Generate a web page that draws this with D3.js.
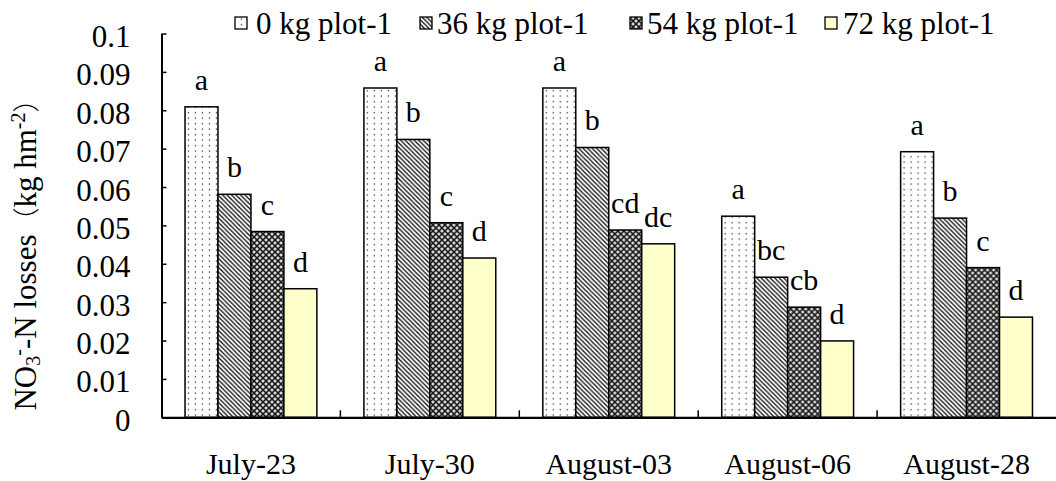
<!DOCTYPE html>
<html>
<head>
<meta charset="utf-8">
<script src="https://cdn.jsdelivr.net/npm/d3@7"></script>
<style>
  html, body { margin: 0; padding: 0; background: #fff; }
  svg { display: block; }
  text { font-family: "Liberation Serif", "Times New Roman", serif; fill: #000; }
</style>
</head>
<body>
<svg id="chart" width="1056" height="481"></svg>
<script>
// ---------------- DATA ----------------
const categories = ["July-23", "July-30", "August-03", "August-06", "August-28"];
const seriesNames = ["0 kg plot-1", "36 kg plot-1", "54 kg plot-1", "72 kg plot-1"];
const values0  = [0.0809, 0.0858, 0.0858, 0.0524, 0.0692];
const values36 = [0.0581, 0.0724, 0.0703, 0.0365, 0.0519];
const values54 = [0.0484, 0.0507, 0.0488, 0.0287, 0.0390];
const values72 = [0.0335, 0.0415, 0.0452, 0.0199, 0.0261];
const letters0  = ["a", "a", "a", "a", "a"];
const letters36 = ["b", "b", "b", "bc", "b"];
const letters54 = ["c", "c", "cd", "cb", "c"];
const letters72 = ["d", "d", "dc", "d", "d"];
const yTicks = [0, 0.01, 0.02, 0.03, 0.04, 0.05, 0.06, 0.07, 0.08, 0.09, 0.1];
const yTickLabels = ["0", "0.01", "0.02", "0.03", "0.04", "0.05", "0.06", "0.07", "0.08", "0.09", "0.1"];

const seriesValues = [values0, values36, values54, values72];
const seriesLetters = [letters0, letters36, letters54, letters72];

// ---------------- LAYOUT ----------------
const svg = d3.select("#chart");
const mLeft = 161.5, mRight = 1056, mTop = 33.5, mBottom = 417.3;
const fontSize = 31;

const defs = svg.append("defs");
// dotted pattern
const pDots = defs.append("pattern").attr("id", "pDots").attr("patternUnits", "userSpaceOnUse")
  .attr("width", 7).attr("height", 5.5);
pDots.append("rect").attr("width", 7).attr("height", 5.5).attr("fill", "#fff");
pDots.append("rect").attr("x", 2.8).attr("y", 2).attr("width", 1.3).attr("height", 1.3).attr("fill", "#333");

// diagonal "\" hatch
const pHatch = defs.append("pattern").attr("id", "pHatch").attr("patternUnits", "userSpaceOnUse")
  .attr("width", 4.5).attr("height", 4.5);
pHatch.append("rect").attr("width", 4.5).attr("height", 4.5).attr("fill", "#fff");
pHatch.append("path").attr("d", "M-1,-1 L5.5,5.5 M-1,3.5 L1,5.5 M3.5,-1 L5.5,1")
  .attr("stroke", "#111").attr("stroke-width", 1.3);

// dark lattice pattern
const pWeave = defs.append("pattern").attr("id", "pWeave").attr("patternUnits", "userSpaceOnUse")
  .attr("width", 6).attr("height", 6);
pWeave.append("rect").attr("width", 6).attr("height", 6).attr("fill", "#8c8c8c");
pWeave.append("path").attr("d", "M0,0 L6,6 M6,0 L0,6").attr("stroke", "#111").attr("stroke-width", 1.1);
[[3, 0], [0, 3], [6, 3], [3, 6]].forEach(([cx, cy]) =>
  pWeave.append("circle").attr("cx", cx).attr("cy", cy).attr("r", 0.9).attr("fill", "#fff"));

const fills = ["url(#pDots)", "url(#pHatch)", "url(#pWeave)", "#ffffcc"];

// scales
const x0 = d3.scaleBand().domain(categories).range([mLeft, mRight]).paddingInner(0).paddingOuter(0);
const groupW = x0.bandwidth() * 0.737;
const x1 = d3.scaleBand().domain(d3.range(seriesNames.length)).range([0, groupW]).padding(0);
const y = d3.scaleLinear().domain([0, 0.1]).range([mBottom, mTop]);

// bars
const groups = svg.append("g").selectAll("g").data(categories).join("g")
  .attr("transform", c => `translate(${x0(c) + (x0.bandwidth() - groupW) / 2},0)`);

groups.each(function (c, ci) {
  const g = d3.select(this);
  seriesValues.forEach((vals, si) => {
    g.append("rect")
      .attr("x", x1(si))
      .attr("y", y(vals[ci]))
      .attr("width", x1.bandwidth())
      .attr("height", y(0) - y(vals[ci]))
      .attr("fill", fills[si])
      .attr("stroke", "#000")
      .attr("stroke-width", 1.5);
    g.append("text")
      .attr("x", x1(si) + x1.bandwidth() / 2)
      .attr("y", y(vals[ci]) - 17)
      .attr("text-anchor", "middle")
      .attr("font-size", 30)
      .text(seriesLetters[si][ci]);
  });
});

// y axis
const yAxis = d3.axisLeft(y).tickValues(yTicks).tickSizeInner(-5).tickSizeOuter(0)
  .tickFormat((d, i) => yTickLabels[i]);
const gy = svg.append("g").attr("transform", `translate(${mLeft},0)`).call(yAxis);
gy.attr("font-family", null);
gy.select(".domain").attr("stroke", "#000").attr("stroke-width", 2);
gy.selectAll(".tick line").attr("stroke", "#000").attr("stroke-width", 1.5);
gy.selectAll(".tick text")
  .attr("x", -31).attr("dy", "0.42em")
  .attr("font-size", fontSize);

// x axis
const xAxis = d3.axisBottom(x0).tickSize(0).tickPadding(0);
const gx = svg.append("g").attr("transform", `translate(0,${mBottom})`).call(xAxis);
gx.attr("font-family", null);
gx.select(".domain").attr("stroke", "#000").attr("stroke-width", 2.2);
gx.selectAll(".tick text")
  .attr("y", 56.5).attr("dy", 0)
  .attr("font-size", 30);
// category separator ticks (pointing up)
svg.append("g").selectAll("line").data(categories.slice(1)).join("line")
  .attr("x1", c => x0(c)).attr("x2", c => x0(c))
  .attr("y1", mBottom).attr("y2", mBottom - 7)
  .attr("stroke", "#000").attr("stroke-width", 1.5);

// y axis title
const yTitle = svg.append("text")
  .attr("transform", "translate(36,248) rotate(-90)")
  .attr("text-anchor", "middle")
  .attr("font-size", 31);
yTitle.append("tspan").text("NO");
yTitle.append("tspan").attr("font-size", 20).attr("baseline-shift", "-22%").text("3");
yTitle.append("tspan").attr("font-size", 20).attr("baseline-shift", "super").text("-");
yTitle.append("tspan").text("-N losses");
yTitle.append("tspan").attr("font-family", "'Noto Sans CJK SC', sans-serif").attr("font-size", 27).attr("font-weight", 300).text("（");
yTitle.append("tspan").text("kg hm");
yTitle.append("tspan").attr("font-size", 20).attr("baseline-shift", "super").text("-2");
yTitle.append("tspan").attr("font-family", "'Noto Sans CJK SC', sans-serif").attr("font-size", 27).attr("font-weight", 300).text("）");

// legend
const legendBoxX = [235, 420, 630, 825];
const legendTextX = [256, 437, 647, 843];
const legend = svg.append("g");
seriesNames.forEach((name, i) => {
  legend.append("rect")
    .attr("x", legendBoxX[i]).attr("y", 17).attr("width", 12).attr("height", 12)
    .attr("fill", fills[i]).attr("stroke", "#000").attr("stroke-width", 1.3);
  legend.append("text")
    .attr("x", legendTextX[i]).attr("y", 34)
    .attr("font-size", fontSize)
    .text(name);
});
</script>
</body>
</html>
